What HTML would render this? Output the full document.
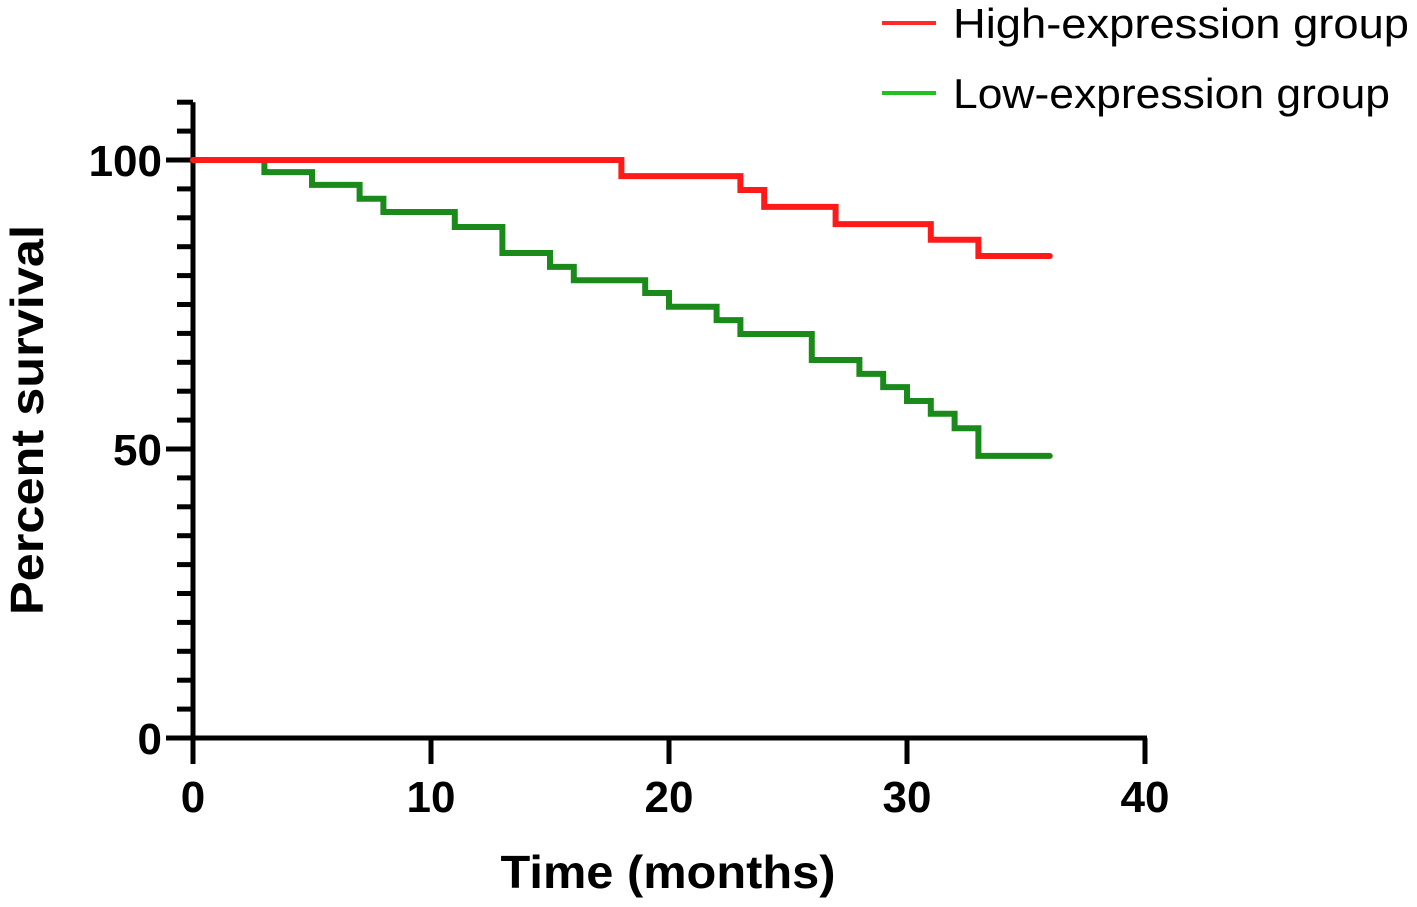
<!DOCTYPE html>
<html><head><meta charset="utf-8"><style>
body{margin:0;background:#fff}
svg{display:block;font-family:"Liberation Sans",Arial,sans-serif}
</style></head><body>
<svg id="chart" width="1417" height="907" viewBox="0 0 1417 907">
<g id="axes"></g>
<g id="series"></g>
<text transform="translate(43,420) rotate(-90)" text-anchor="middle" font-size="46" font-weight="bold" textLength="390" lengthAdjust="spacingAndGlyphs">Percent survival</text>
<text x="668" y="888" text-anchor="middle" font-size="46" font-weight="bold" textLength="335" lengthAdjust="spacingAndGlyphs">Time (months)</text>
<g>
<line x1="882" y1="23" x2="936" y2="23" stroke="#ff2a2a" stroke-width="4"/>
<text x="953" y="38" font-size="42" textLength="456" lengthAdjust="spacingAndGlyphs">High-expression group</text>
<line x1="882" y1="93" x2="936" y2="93" stroke="#22c022" stroke-width="4"/>
<text x="953" y="108" font-size="42" textLength="437" lengthAdjust="spacingAndGlyphs">Low-expression group</text>
</g>
</svg>
<script>
const xTicks=[0,10,20,30,40];
const yTicks=[0,50,100];
const yMinorTicks=[5,10,15,20,25,30,35,40,45,55,60,65,70,75,80,85,90,95,105,110];
const highTimes=[0,18,23,24,27,31,33,36];
const highValues=[100,97.2,94.8,91.9,88.9,86.2,83.4,83.4];
const lowTimes=[0,3,5,7,8,11,13,15,16,19,20,22,23,26,28,29,30,31,32,33,36];
const lowValues=[100,97.9,95.7,93.3,91.0,88.4,83.9,81.5,79.2,77.0,74.6,72.3,69.9,65.4,63.0,60.7,58.3,56.1,53.6,48.8,48.8];
const X=t=>193+t*(1145-193)/40;
const Y=v=>738-v*(738-160)/100;
const NS="http://www.w3.org/2000/svg";
const axes=document.getElementById('axes'), ser=document.getElementById('series');
function mk(tag,attrs,parent){const e=document.createElementNS(NS,tag);for(const k in attrs)e.setAttribute(k,attrs[k]);parent.appendChild(e);return e;}
let e;
e=mk('line',{x1:X(0),y1:Y(110),x2:X(0),y2:Y(0)+2,stroke:'#000','stroke-width':5},axes);


e=mk('line',{x1:X(0)-2,y1:Y(0),x2:X(40)+2,y2:Y(0),stroke:'#000','stroke-width':5},axes);


xTicks.forEach(t=>{
  e=mk('line',{x1:X(t),y1:Y(0),x2:X(t),y2:Y(0)+26,stroke:'#000','stroke-width':5},axes);
  
  
  e=mk('text',{x:X(t),y:812,'text-anchor':'middle','font-size':44,'font-weight':'bold'},axes);
  e.textContent=t;
  
  
});
yTicks.forEach(v=>{
  e=mk('line',{x1:X(0)-27,y1:Y(v),x2:X(0),y2:Y(v),stroke:'#000','stroke-width':5},axes);
  
  
  e=mk('text',{x:162,y:Y(v)+16,'text-anchor':'end','font-size':44,'font-weight':'bold'},axes);
  e.textContent=v;
  
  
});
yMinorTicks.forEach(v=>{
  e=mk('line',{x1:X(0)-16,y1:Y(v),x2:X(0),y2:Y(v),stroke:'#000','stroke-width':5},axes);
  
  
});
function step(ts,vs){let d='M'+X(ts[0])+','+Y(vs[0]);for(let i=1;i<ts.length;i++){d+=' H'+X(ts[i])+' V'+Y(vs[i]);}return d;}
e=mk('path',{d:step(lowTimes,lowValues),fill:'none',stroke:'#1a8a1a','stroke-width':6,'stroke-linecap':'round'},ser);


e=mk('path',{d:step(highTimes,highValues),fill:'none',stroke:'#ff1a1a','stroke-width':6,'stroke-linecap':'round'},ser);


</script>
</body></html>
